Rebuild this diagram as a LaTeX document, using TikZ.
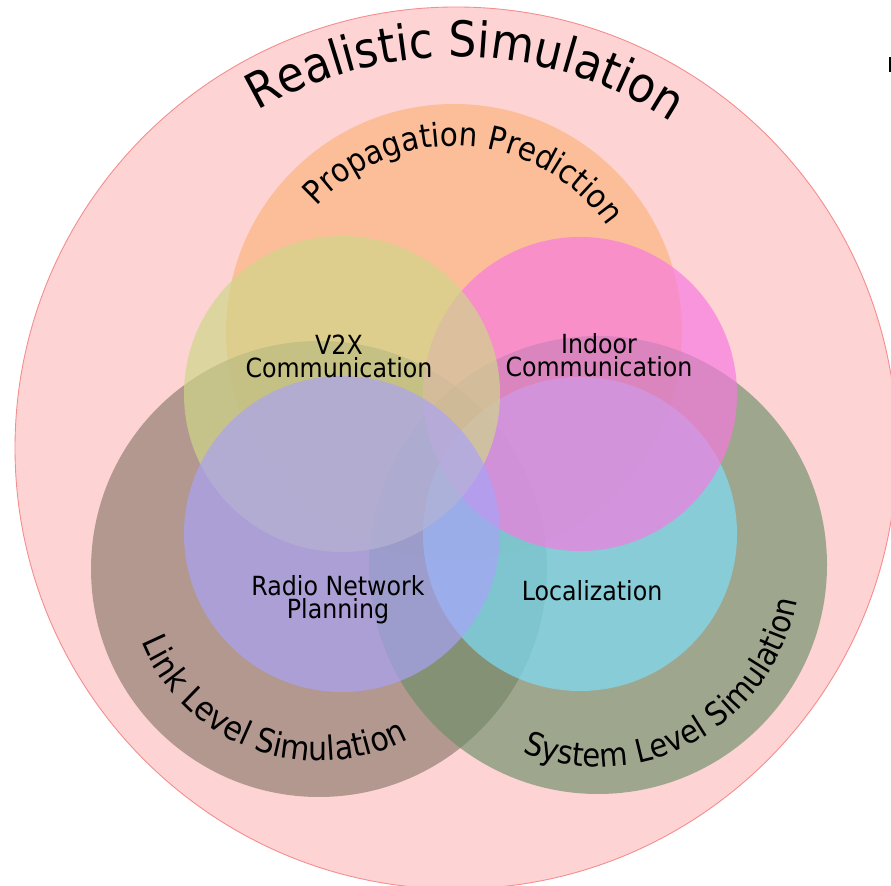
\documentclass[tikz,border=0pt]{standalone}
\usepackage{fontspec}
\setmainfont{DejaVu Sans}[FakeStretch=0.9]
\usetikzlibrary{decorations.text,calc}
\definecolor{outerpink}{RGB}{253,211,212}
\definecolor{outeredge}{RGB}{246,140,140}
\definecolor{cprop}{RGB}{250,178,117}
\definecolor{clink}{RGB}{136,119,103}
\definecolor{csys}{RGB}{105,141,102}
\definecolor{cvtx}{RGB}{207,215,136}
\definecolor{cindoor}{RGB}{248,121,224}
\definecolor{cradio}{RGB}{169,163,247}
\definecolor{cloc}{RGB}{125,223,250}
\begin{document}
\begin{tikzpicture}[x=0.02cm,y=0.02cm,
  bigc/.style={fill opacity=0.63},
  smallc/.style={fill opacity=0.68},
  lbl/.style={font=\fontsize{15}{13}\selectfont, align=center, inner sep=0pt, text=black},
  arcdeco/.style={decorate, decoration={text along path, text={#1}, text align=center}}
]
\useasboundingbox (0,0) rectangle (891,885);
\coordinate (cO) at (456,437);
\coordinate (cP) at (454,553);
\coordinate (cL) at (319,316);
\coordinate (cS) at (598,320);
\coordinate (cV) at (342,491);
\coordinate (cI) at (580,491);
\coordinate (cR) at (342,351);
\coordinate (cC) at (580,351);
\begin{scope}
\clip (0,0) rectangle (891,885);
\filldraw[fill=outerpink, draw=outeredge, line width=0.5pt] (cO) circle[radius=441];
\fill[cprop, bigc] (cP) circle[radius=228];
\fill[clink, bigc] (cL) circle[radius=228];
\fill[csys, bigc] (cS) circle[radius=229];
\fill[cloc, smallc] (cC) circle[radius=157];
\fill[cindoor, smallc] (cI) circle[radius=157];
\fill[cvtx, smallc] (cV) circle[radius=158];
\fill[cradio, smallc] (cR) circle[radius=158];
\fill[black] (888.5,813) rectangle (891,828);
\end{scope}
% curved titles
\path[arcdeco={|\fontsize{28}{28}\selectfont|Realistic Simulation}]
  ($(cO)+(158.5:391)$) arc[start angle=158.5, end angle=18.5, radius=391];
\path[arcdeco={|\fontsize{18.6}{18.6}\selectfont|Propagation Prediction}]
  ($(cP)+(156:186)$) arc[start angle=156, end angle=16, radius=186];
\path[arcdeco={|\fontsize{19}{19}\selectfont|Link Level Simulation}]
  ($(cL)+(180:192)$) arc[start angle=180, end angle=320, radius=192];
\path[arcdeco={|\fontsize{18.4}{18.4}\selectfont|System Level Simulation}]
  ($(cS)+(229:202)$) arc[start angle=229, end angle=369, radius=202];
% inner labels
\node[lbl] (v2x) at (339,528.5) {V2X\\Communication};
\node[lbl] (indoor) at (599,529.5) {Indoor\\Communication};
\node[lbl] (radio) at (338,285.5) {Radio Network\\Planning};
\node[lbl, anchor=base] (loc) at (592,284) {Localization};
\end{tikzpicture}
\end{document}
